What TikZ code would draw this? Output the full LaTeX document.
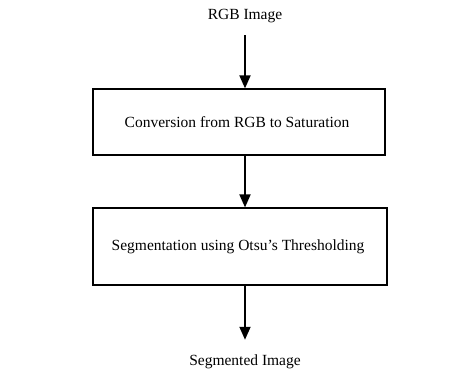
\documentclass[tikz,border=0pt]{standalone}
\usepackage{fontspec}
\setmainfont{Liberation Serif}
\usetikzlibrary{arrows.meta, positioning, calc}
\tikzset{
    box_step/.style={
        rectangle, draw=black, line width=1.2pt, fill=white,
        align=center, inner sep=0pt
    },
    flow_arrow/.style={
        -{Triangle[width=11pt, length=13pt]}, draw=black, line width=1.8pt
    },
    io_text/.style={
        inner xsep=0pt, align=center
    }
}

\begin{document}
\begin{tikzpicture}[x=1pt, y=-1pt, font=\fontsize{15.5}{19}\selectfont]

    \useasboundingbox (0,0) rectangle (471,375);

    % --- Input ---
    \node[io_text, inner ysep=12pt] (rgb) at (245, 16) {RGB Image};

    % --- Processing steps ---
    \node[box_step, minimum width=292pt, minimum height=66pt] (conv) at (239, 122) {
        Conversion from RGB to Saturation
    };
    \node[box_step, minimum width=294pt, minimum height=77pt] (seg) at (240, 246.5) {
        Segmentation using Otsu's Thresholding
    };

    % --- Output ---
    \node[io_text, inner ysep=15pt] (out) at (245, 362) {Segmented Image};

    % --- Arrows ---
    \draw[flow_arrow] (rgb.south) -- (rgb.south |- conv.north);
    \draw[flow_arrow] (rgb.south |- conv.south) -- (rgb.south |- seg.north);
    \draw[flow_arrow] (rgb.south |- seg.south) -- (out.north);

\end{tikzpicture}
\end{document}
